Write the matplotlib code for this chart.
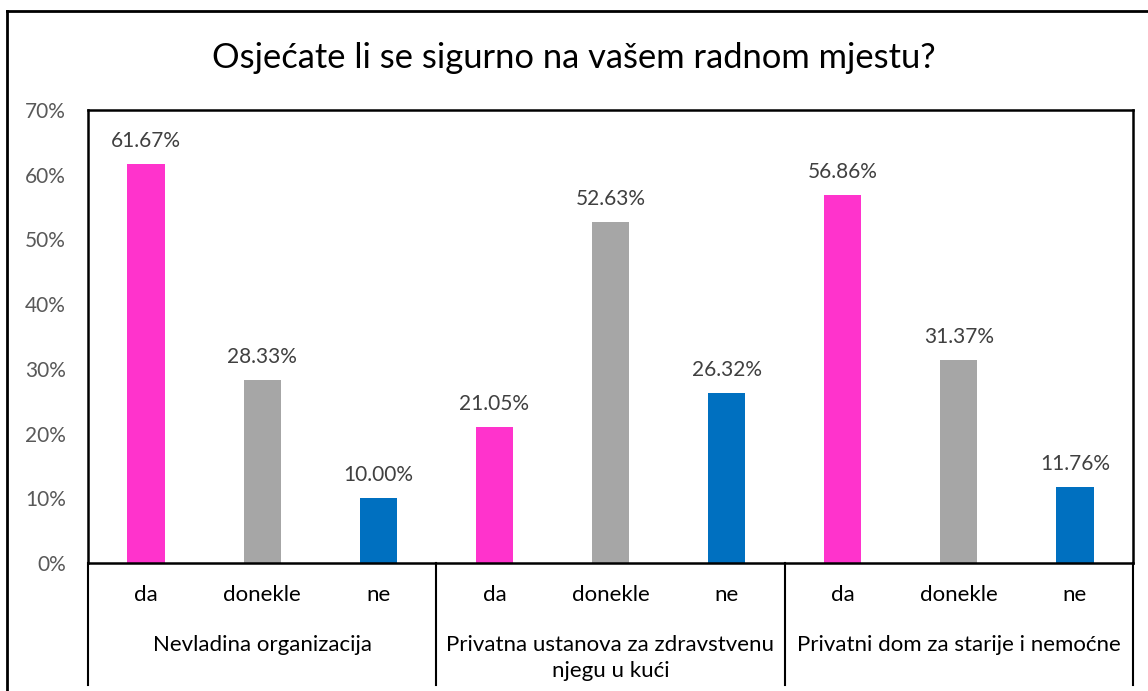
import matplotlib.pyplot as plt
from matplotlib.lines import Line2D

groups = ["Nevladina organizacija",
          "Privatna ustanova za zdravstvenu\nnjegu u kući",
          "Privatni dom za starije i nemoćne"]
answers = ["da", "donekle", "ne"]
values = [
    [61.67, 28.33, 10.00],
    [21.05, 52.63, 26.32],
    [56.86, 31.37, 11.76],
]
colors = ["#FF33CC", "#A6A6A6", "#0070C0"]
yticks = [0, 10, 20, 30, 40, 50, 60, 70]

plt.rcParams["font.family"] = ["Lato", "DejaVu Sans"]
fs = 15
fs_cat = 16

fig = plt.figure(figsize=(11.48, 6.91), dpi=100)
ax = fig.add_axes([88 / 1148, 128 / 691, 1045 / 1148, 453 / 691])

for g, vals in enumerate(values):
    for i, v in enumerate(vals):
        x = g * 3 + i + 0.5
        ax.bar(x, v, width=0.32, color=colors[i], zorder=2)
        ax.text(x, v + 2.0, f"{v:.2f}%", ha="center", va="bottom",
                fontsize=fs, color="#404040")

ax.set_xlim(0, 9)
ax.set_ylim(0, 70)
ax.set_yticks(yticks)
ax.set_yticklabels([f"{t}%" for t in yticks], fontsize=fs, color="#595959")
ax.tick_params(axis="y", length=0, pad=16)
ax.set_xticks([])
for s in ax.spines.values():
    s.set_linewidth(1.8)
    s.set_color("black")

# multi-level category axis
trans = ax.get_xaxis_transform()
for g, name in enumerate(groups):
    for i, a in enumerate(answers):
        ax.text(g * 3 + i + 0.5, -0.07, a, transform=trans, ha="center",
                va="center", fontsize=fs_cat, color="black")
    ax.text(g * 3 + 1.5, -0.16, name, transform=trans, ha="center", va="top",
            fontsize=fs_cat, color="black", linespacing=1.35)
for xb in [0, 3, 6, 9]:
    ax.add_line(Line2D([xb, xb], [0, -0.269], transform=trans, color="black",
                       lw=1.5, clip_on=False))

fig.text(0.5, 0.916, "Osjećate li se sigurno na vašem radnom mjestu?",
         ha="center", va="center", fontsize=24.8, color="black")

# outer chart border (top and left only visible)
fig.add_artist(Line2D([7 / 1148, 7 / 1148], [0, 1 - 11 / 691],
                      transform=fig.transFigure, color="black", lw=2))
fig.add_artist(Line2D([7 / 1148, 1], [1 - 11 / 691, 1 - 11 / 691],
                      transform=fig.transFigure, color="black", lw=2))

fig.savefig("out.png", dpi=100)
